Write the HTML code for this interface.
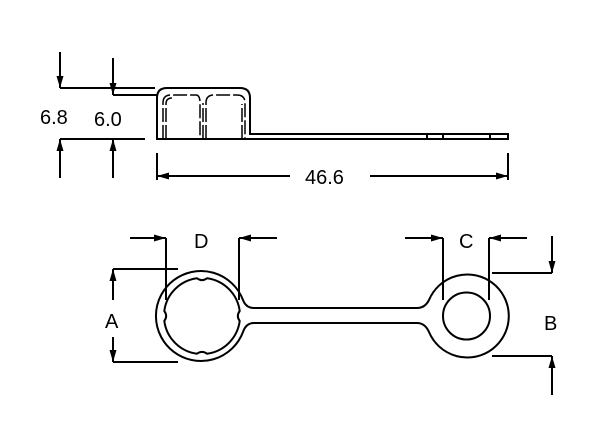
<!DOCTYPE html>
<html><head><style>
html,body{margin:0;padding:0;background:#fff;}
svg{display:block;}
text{font-family:"Liberation Sans",sans-serif;font-size:20px;fill:#000;}
</style></head><body>
<svg width="607" height="434" viewBox="0 0 607 434" xmlns="http://www.w3.org/2000/svg">
<defs>
<marker id="a" markerWidth="12" markerHeight="8" refX="12" refY="4" orient="auto" markerUnits="userSpaceOnUse">
<path d="M0,0.5 L12,4 L0,7.5 Z" fill="#000"/>
</marker>
</defs>
<g fill="none" stroke="#000" stroke-width="2">
<path d="M157,139 L157,98 Q157,88 167,88 L240,88 Q250,88 250,98 L250,134 L508,134 L508,139 Z"/>
<line x1="427" y1="134" x2="427" y2="139"/>
<line x1="443" y1="134" x2="443" y2="139"/>
<line x1="490" y1="134" x2="490" y2="139"/>
<g stroke-dasharray="14,3" stroke-width="1.5">
<path d="M163,139 L163,103 Q163,95 171,95 L196,95 Q200,95 200,103 L200,139"/>
<path d="M166,139 L166,104 Q166,98 172,98"/>
<path d="M206,139 L206,103 Q206,95 214,95 L237,95 Q245,95 245,103 L245,139"/>
<path d="M203,139 L203,103"/>
<path d="M242,139 L242,104"/>
</g>
<line x1="60" y1="88" x2="155" y2="88"/>
<line x1="113" y1="95" x2="157" y2="95"/>
<line x1="60" y1="139" x2="145" y2="139"/>
<line x1="60" y1="52" x2="60" y2="88" marker-end="url(#a)"/>
<line x1="60" y1="178" x2="60" y2="139" marker-end="url(#a)"/>
<line x1="113" y1="58" x2="113" y2="95" marker-end="url(#a)"/>
<line x1="113" y1="178" x2="113" y2="139" marker-end="url(#a)"/>
<line x1="157" y1="153" x2="157" y2="180"/>
<line x1="508" y1="153" x2="508" y2="180"/>
<line x1="290" y1="176" x2="157" y2="176" marker-end="url(#a)"/>
<line x1="370" y1="176" x2="508" y2="176" marker-end="url(#a)"/>
<path d="M243,300 Q246,308 254,308 L417,308 Q425,308 429,300 A41.5 41.5 0 1 1 429,332 Q425,323 417,323 L254,323 Q246,323 243,332 A45 45 0 1 1 243,300 Z"/>
<path d="M197,278.3 Q202,282 207,278.3 A38 38 0 0 1 239.7,311 Q236,316 239.7,321 A38 38 0 0 1 207,353.7 Q202,350 197,353.7 A38 38 0 0 1 164.3,321 Q168,316 164.3,311 A38 38 0 0 1 197,278.3 Z"/>
<circle cx="466.5" cy="316" r="23.5"/>
<line x1="166" y1="238" x2="166" y2="300"/>
<line x1="239" y1="238" x2="239" y2="300"/>
<line x1="130" y1="238" x2="166" y2="238" marker-end="url(#a)"/>
<line x1="277" y1="238" x2="239" y2="238" marker-end="url(#a)"/>
<line x1="443" y1="238" x2="443" y2="300"/>
<line x1="489" y1="238" x2="489" y2="300"/>
<line x1="405" y1="238" x2="443" y2="238" marker-end="url(#a)"/>
<line x1="527" y1="238" x2="489" y2="238" marker-end="url(#a)"/>
<line x1="113" y1="269" x2="178" y2="269"/>
<line x1="113" y1="362" x2="178" y2="362"/>
<line x1="113" y1="300" x2="113" y2="269" marker-end="url(#a)"/>
<line x1="113" y1="337" x2="113" y2="362" marker-end="url(#a)"/>
<line x1="492" y1="273" x2="552" y2="273"/>
<line x1="492" y1="356" x2="552" y2="356"/>
<line x1="552" y1="236" x2="552" y2="273" marker-end="url(#a)"/>
<line x1="552" y1="395" x2="552" y2="356" marker-end="url(#a)"/>
</g>
<text x="40" y="124">6.8</text>
<text x="94" y="126">6.0</text>
<text x="305" y="184">46.6</text>
<text x="194" y="248">D</text>
<text x="459" y="248">C</text>
<text x="105" y="328">A</text>
<text x="544" y="330">B</text>
</svg>
</body></html>
